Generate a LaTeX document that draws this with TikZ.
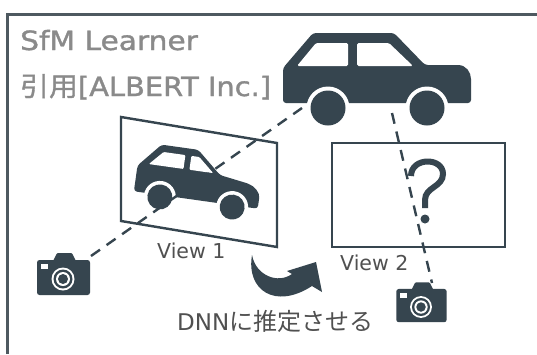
\documentclass[tikz,border=0pt]{standalone}
\usepackage{fontspec}
\setmainfont{DejaVu Sans}
\newfontfamily\cjk{Noto Sans CJK JP}
\newfontfamily\headfont{DejaVu Sans}[FakeBold=1.2]
\newfontfamily\headcjk{Noto Sans CJK JP}[FakeBold=1.2]
\definecolor{ink}{HTML}{36454F}
\definecolor{border}{HTML}{4E5960}
\definecolor{titlegray}{HTML}{8A8A8A}
\definecolor{labelgray}{HTML}{505050}
\tikzset{
  camera/.pic={
    \fill[ink,rounded corners=2.5pt] (-26,-19) rectangle (27,16);
    \fill[ink,rounded corners=1pt] (-10,-18) -- (-6,-26) -- (9,-26) -- (13,-18) -- cycle;
    \fill[white] (-22,-15) rectangle (-15,-10);
    \fill[white] (0,0) circle[radius=11.5];
    \fill[ink] (0,0) circle[radius=9.5];
    \fill[white] (0,0) circle[radius=7];
    \fill[ink] (0,0) circle[radius=5];
  }
}
\begin{document}
\begin{tikzpicture}[x=1pt,y=-1pt,
  frameline/.style={draw=ink,line width=2.4pt},
  sight/.style={draw=ink,line width=2.4pt,dash pattern=on 11pt off 8pt},
  title/.style={inner sep=0pt,anchor=base west,text=titlegray,font=\headfont\fontsize{26.5}{30}\selectfont},
  viewlabel/.style={inner sep=0pt,anchor=base west,text=labelgray,font=\fontsize{20.5}{24}\selectfont}]
\useasboundingbox (0,0) rectangle (537,354);
\fill[white] (0,0) rectangle (537,354);

% panel border (top and left edges)
\draw[border,line width=3pt] (7,354) -- (7,14.5) -- (537,14.5);

% heading
\node[title] (head1) at (20,50) {\scalebox{1.12}[1]{SfM Learner}};
\node[title] (head2) at (20,96) {\scalebox{1.09}[1]{{\headcjk 引用}[ALBERT Inc.]}};

% real car (sedan)
\fill[ink,rounded corners=3pt] (283,103) -- (283,68) -- (313,33) -- (394,33) -- (425,65)
  -- (455,65) .. controls (466,65) and (471,72) .. (471,82) -- (471,103) -- cycle;
\fill[white,rounded corners=1.5pt] (297,66) -- (316,43) -- (348,43) -- (348,66) -- cycle;
\fill[white,rounded corners=1.5pt] (357,43) -- (389,43) -- (413,66) -- (357,66) -- cycle;
\fill[white] (328,108) circle[radius=21.5];
\fill[white] (427,108) circle[radius=21.5];
\fill[ink] (328,108) circle[radius=17.5];
\fill[ink] (427,108) circle[radius=17.5];

% view 1: tilted image plane with the observed car
\draw[frameline,line join=miter] (121,117) -- (277,143) -- (277,247) -- (121,221) -- cycle;
\begin{scope}[shift={(196,202)},rotate=-8]
  \fill[ink,rounded corners=3pt] (-63,-2) -- (-63,-28) -- (-42,-52) -- (-5,-52) -- (20,-30)
    -- (46,-26) .. controls (56,-24) and (62,-18) .. (62,-10) -- (62,-2) -- cycle;
  \fill[white,rounded corners=1pt] (-52,-31) -- (-39,-45) -- (-17,-45) -- (-17,-31) -- cycle;
  \fill[white,rounded corners=1pt] (-11,-45) -- (-3,-45) -- (13,-31) -- (-11,-31) -- cycle;
  \fill[white] (-36.5,0) circle[radius=16];
  \fill[white] (36.5,0) circle[radius=16];
  \fill[ink] (-36.5,0) circle[radius=12.5];
  \fill[ink] (36.5,0) circle[radius=12.5];
\end{scope}

% view 2: image plane to be predicted
\draw[frameline] (332,143) rectangle (505,247);

% cameras
\pic (cam1) at (63,279) {camera};
\pic[scale=0.95] (cam2) at (421,307) {camera};

% lines of sight
\coordinate (eye1) at (91,256);
\coordinate (carA) at (302,108);
\coordinate (carB) at (392,113);
\coordinate (eye2) at (432,283);
\draw[sight] (eye1) -- (carA);
\draw[sight] (carB) -- (eye2);

% question mark
\draw[ink,line width=6pt] (411,176) .. controls (411,157) and (443,157) .. (443,174)
  .. controls (443,187) and (425,187) .. (425,200) -- (425,208);
\fill[ink] (425,219) circle[radius=4.5];

% curved arrow from view 1 to view 2
\fill[ink] (252,255) .. controls (246,290) and (275,310) .. (312,286) -- (322,292)
  -- (316,262) -- (287,271) -- (292,274) .. controls (278,284) and (256,276) .. (252,255) -- cycle;

% labels
\node[viewlabel] (lab1) at (157,258) {View 1};
\node[viewlabel] (lab2) at (340,270) {View 2};
\node[inner sep=0pt,anchor=base west,text=labelgray,font=\fontsize{23}{26}\selectfont] (task) at (177,330)
  {DNN{\cjk\fontsize{24}{26}\selectfont に推定させる}};
\end{tikzpicture}
\end{document}
